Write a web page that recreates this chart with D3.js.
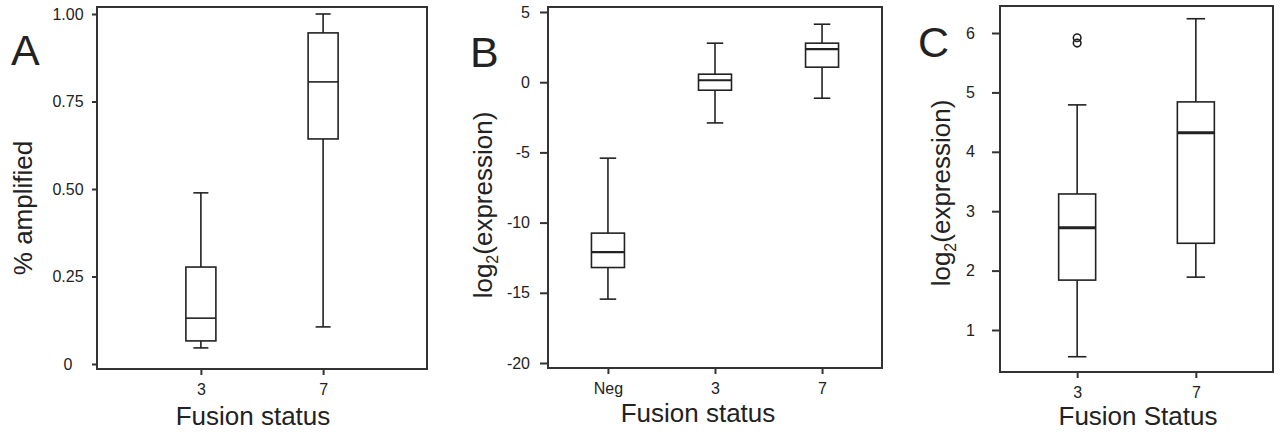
<!DOCTYPE html>
<html>
<head>
<meta charset="utf-8">
<script src="https://cdn.jsdelivr.net/npm/d3@7"></script>
<style>
  body { margin: 0; background: #fff; }
  text { font-family: "Liberation Sans", Arial, sans-serif; fill: #222; }
</style>
</head>
<body>
<svg id="fig" width="1282" height="434"></svg>
<script>
// panel A : % amplified
const groupsA = ['3', '7'];
const lowA = [0.046, 0.106];
const q1A = [0.066, 0.643];
const medA = [0.131, 0.806];
const q3A = [0.277, 0.946];
const highA = [0.489, 1.0];
const ticksA = [0, 0.25, 0.5, 0.75, 1];
const tickLabelsA = ['0', '0.25', '0.50', '0.75', '1.00'];

// panel B : log2 expression
const groupsB = ['Neg', '3', '7'];
const lowB = [-15.45, -2.9, -1.14];
const q1B = [-13.2, -0.57, 1.07];
const medB = [-12.1, 0.14, 2.35];
const q3B = [-10.75, 0.57, 2.78];
const highB = [-5.41, 2.78, 4.13];
const ticksB = [-20, -15, -10, -5, 0, 5];

// panel C : log2 expression
const groupsC = ['3', '7'];
const lowC = [0.55, 1.89];
const q1C = [1.84, 2.46];
const medC = [2.72, 4.32];
const q3C = [3.29, 4.84];
const highC = [4.79, 6.24];
const outlierGroupC = ['3', '3'];
const outlierValueC = [5.92, 5.83];
const ticksC = [1, 2, 3, 4, 5, 6];

var svg = d3.select('#fig');

function drawPanel(p) {
  var x = d3.scalePoint().domain(p.groups).range([p.left, p.right]).padding(p.pad);
  var y = d3.scaleLinear().domain(p.domain).range(p.yRange);

  var boxes = p.groups.map((g, i) => ({
    g: g, low: p.low[i], q1: p.q1[i], med: p.med[i], q3: p.q3[i], high: p.high[i]
  }));

  // frame
  svg.append('rect')
    .attr('x', p.left).attr('y', p.top)
    .attr('width', p.right - p.left).attr('height', p.bottom - p.top)
    .attr('fill', 'none').attr('stroke', '#333').attr('stroke-width', 2);

  // y axis
  var yAxis = svg.append('g')
    .attr('transform', `translate(${p.left},0)`)
    .call(d3.axisLeft(y).tickValues(p.ticks).tickSize(p.tickLen).tickPadding(p.tickPad)
      .tickFormat((d, i) => p.tickLabels ? p.tickLabels[i] : String(d)));
  yAxis.select('.domain').remove();
  yAxis.selectAll('line').attr('stroke', '#333').attr('stroke-width', 2);
  yAxis.selectAll('text')
    .style('font-size', '16px').style('font-family', '"Liberation Sans", Arial, sans-serif')
    .attr('fill', p.tickColor);
  if (p.yLabelMiddle) yAxis.selectAll('text').attr('text-anchor', 'middle').attr('x', -p.yLabelMiddle);

  // x axis
  var xAxis = svg.append('g')
    .attr('transform', `translate(0,${p.bottom})`)
    .call(d3.axisBottom(x).tickSize(6).tickPadding(9));
  xAxis.select('.domain').remove();
  xAxis.selectAll('line').attr('stroke', '#333').attr('stroke-width', 2);
  xAxis.selectAll('text')
    .style('font-size', '16px').style('font-family', '"Liberation Sans", Arial, sans-serif')
    .attr('fill', p.tickColor);

  var hw = p.boxW / 2, cw = p.boxW / 4;
  var g = svg.append('g').attr('stroke', '#222').attr('fill', 'none').attr('stroke-width', 1.6);
  var b = g.selectAll('g.box').data(boxes).enter().append('g').attr('class', 'box');

  b.append('line').attr('x1', d => x(d.g)).attr('x2', d => x(d.g))
    .attr('y1', d => y(d.high)).attr('y2', d => y(d.q3));
  b.append('line').attr('x1', d => x(d.g)).attr('x2', d => x(d.g))
    .attr('y1', d => y(d.q1)).attr('y2', d => y(d.low));
  b.append('line').attr('x1', d => x(d.g) - cw).attr('x2', d => x(d.g) + cw)
    .attr('y1', d => y(d.high)).attr('y2', d => y(d.high));
  b.append('line').attr('x1', d => x(d.g) - cw).attr('x2', d => x(d.g) + cw)
    .attr('y1', d => y(d.low)).attr('y2', d => y(d.low));
  b.append('rect')
    .attr('x', d => x(d.g) - hw).attr('width', p.boxW)
    .attr('y', d => y(d.q3)).attr('height', d => y(d.q1) - y(d.q3))
    .attr('fill', '#fff');
  b.append('line').attr('x1', d => x(d.g) - hw).attr('x2', d => x(d.g) + hw)
    .attr('y1', d => y(d.med)).attr('y2', d => y(d.med))
    .attr('stroke-width', p.medW);

  if (p.outGroup) {
    g.selectAll('circle').data(p.outValue).enter().append('circle')
      .attr('cx', (d, i) => x(p.outGroup[i]))
      .attr('cy', d => y(d))
      .attr('r', 3.8)
      .attr('stroke-width', 1.6);
  }

  // titles
  svg.append('text')
    .attr('x', p.xTitle[0]).attr('y', p.xTitle[1])
    .attr('text-anchor', 'middle').style('font-size', '26px')
    .text(p.xTitleText);

  var yt = svg.append('text')
    .attr('transform', `translate(${p.yTitle[0]},${p.yTitle[1]}) rotate(-90)`)
    .attr('text-anchor', 'middle').style('font-size', '26px');
  if (p.log2) {
    yt.append('tspan').text('log');
    yt.append('tspan').text('2').style('font-size', '16px').attr('dy', 6);
    yt.append('tspan').text('(expression)').attr('dy', -6);
  } else {
    yt.text(p.yTitleText);
  }

  svg.append('text')
    .attr('x', p.letter[0]).attr('y', p.letter[1])
    .style('font-size', '43px').attr('fill', '#111')
    .text(p.letterText);
}

drawPanel({
  groups: groupsA, low: lowA, q1: q1A, med: medA, q3: q3A, high: highA,
  ticks: ticksA, tickLabels: tickLabelsA, domain: [0, 1], yRange: [364, 14],
  left: 97, right: 427, top: 7, bottom: 369, pad: 0.85,
  tickLen: 5, tickPad: 6, yLabelMiddle: 29, boxW: 30, medW: 1.6, tickColor: '#222',
  xTitle: [253, 425], xTitleText: 'Fusion status',
  yTitle: [32, 208], yTitleText: '% amplified',
  letter: [11, 65], letterText: 'A'
});

drawPanel({
  groups: groupsB, low: lowB, q1: q1B, med: medB, q3: q3B, high: highB,
  ticks: ticksB, domain: [-20, 5], yRange: [363, 12],
  left: 548, right: 882, top: 7, bottom: 368, pad: 0.56,
  tickLen: 8, tickPad: 10, boxW: 33, medW: 2.2, tickColor: '#333',
  xTitle: [698, 422], xTitleText: 'Fusion status',
  yTitle: [492, 205], log2: true,
  letter: [470, 67], letterText: 'B'
});

drawPanel({
  groups: groupsC, low: lowC, q1: q1C, med: medC, q3: q3C, high: highC,
  outGroup: outlierGroupC, outValue: outlierValueC,
  ticks: ticksC, domain: [1, 6], yRange: [330, 33],
  left: 1000, right: 1273, top: 6, bottom: 372, pad: 0.65,
  tickLen: 8, tickPad: 17, boxW: 37, medW: 3, tickColor: '#444',
  xTitle: [1138, 425], xTitleText: 'Fusion Status',
  yTitle: [950, 193], log2: true,
  letter: [918, 57], letterText: 'C'
});
</script>
</body>
</html>
